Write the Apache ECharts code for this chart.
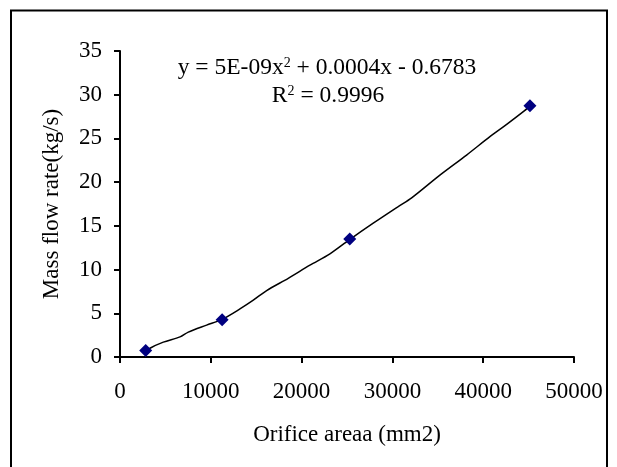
<!DOCTYPE html>
<html>
<head>
<meta charset="utf-8">
<script src="https://cdn.jsdelivr.net/npm/echarts@6/dist/echarts.min.js"></script>
<style>
html,body{margin:0;padding:0;background:#fff;}
#chart{width:617px;height:467px;}
</style>
</head>
<body>
<div id="chart"></div>
<script>
// Measured data points (orifice area mm2, mass flow rate kg/s)
const areaValues = [2830, 11250, 25300, 45150];
const flowValues = [0.75, 4.26, 13.49, 28.75];

// Trendline
const trendX = [2830, 3300, 4770, 6610, 7520, 9540, 11230, 13210, 14680, 16150, 18530, 20920, 23120, 25250, 27890, 30640, 32120, 35230, 38170, 40740, 42580, 44590, 45150];
const trendY = [0.5, 1.0, 1.7, 2.3, 2.85, 3.65, 4.3, 5.5, 6.5, 7.6, 9.0, 10.5, 11.8, 13.4, 15.3, 17.2, 18.2, 20.8, 23.1, 25.2, 26.6, 28.2, 28.75];

const xTicks = [0, 10000, 20000, 30000, 40000, 50000];
const yTicks = [0, 5, 10, 15, 20, 25, 30, 35];

const xName = 'Orifice areaa (mm2)';
const yName = 'Mass flow rate(kg/s)';
const eqLine1 = 'y = 5E-09x{sup|2} + 0.0004x - 0.6783';
const eqLine2 = 'R{sup|2} = 0.9996';

const FONT = '"Liberation Serif", "Times New Roman", serif';

const chart = echarts.init(document.getElementById('chart'));

const axisCommon = {
  type: 'value',
  axisLine: {show: true, lineStyle: {color: '#000', width: 2}},
  axisTick: {show: true, inside: false, length: 6, lineStyle: {color: '#000', width: 2}},
  splitLine: {show: false},
  nameTextStyle: {fontFamily: FONT, fontSize: 23, color: '#000'},
  axisLabel: {fontFamily: FONT, fontSize: 23, color: '#000', formatter: v => String(v)}
};

chart.setOption({
  animation: false,
  backgroundColor: '#fff',
  grid: {left: 120, right: 43, top: 51, bottom: 110, containLabel: false},
  xAxis: Object.assign({}, axisCommon, {
    min: xTicks[0], max: xTicks[xTicks.length - 1], interval: xTicks[1] - xTicks[0],
    name: xName, nameLocation: 'middle', nameGap: 66,
    axisLabel: Object.assign({}, axisCommon.axisLabel, {margin: 23})
  }),
  yAxis: Object.assign({}, axisCommon, {
    min: yTicks[0], max: yTicks[yTicks.length - 1], interval: yTicks[1] - yTicks[0],
    name: yName, nameLocation: 'middle', nameGap: 57, nameRotate: 90,
    axisLabel: Object.assign({}, axisCommon.axisLabel, {margin: 18})
  }),
  series: [
    {
      type: 'line',
      data: trendX.map((x, i) => [x, trendY[i]]),
      showSymbol: false,
      smooth: 0.3,
      lineStyle: {color: '#000', width: 1.5},
      z: 2
    },
    {
      type: 'scatter',
      data: areaValues.map((x, i) => [x, flowValues[i]]),
      symbol: 'diamond',
      symbolSize: 13,
      itemStyle: {color: '#000080', opacity: 1},
      z: 3
    }
  ],
  graphic: [
    {
      type: 'rect',
      shape: {x: 11, y: 10.5, width: 596, height: 480},
      style: {fill: 'none', stroke: '#000', lineWidth: 2},
      silent: true
    },
    {
      type: 'text',
      x: 327, y: 68,
      style: {
        text: eqLine1,
        font: '23.5px ' + FONT,
        fill: '#000',
        align: 'center',
        verticalAlign: 'middle',
        rich: {sup: {fontSize: 14, fontFamily: FONT, verticalAlign: 'top', fill: '#000'}}
      }
    },
    {
      type: 'text',
      x: 328, y: 96,
      style: {
        text: eqLine2,
        font: '23.5px ' + FONT,
        fill: '#000',
        align: 'center',
        verticalAlign: 'middle',
        rich: {sup: {fontSize: 14, fontFamily: FONT, verticalAlign: 'top', fill: '#000'}}
      }
    }
  ]
});
</script>
</body>
</html>
